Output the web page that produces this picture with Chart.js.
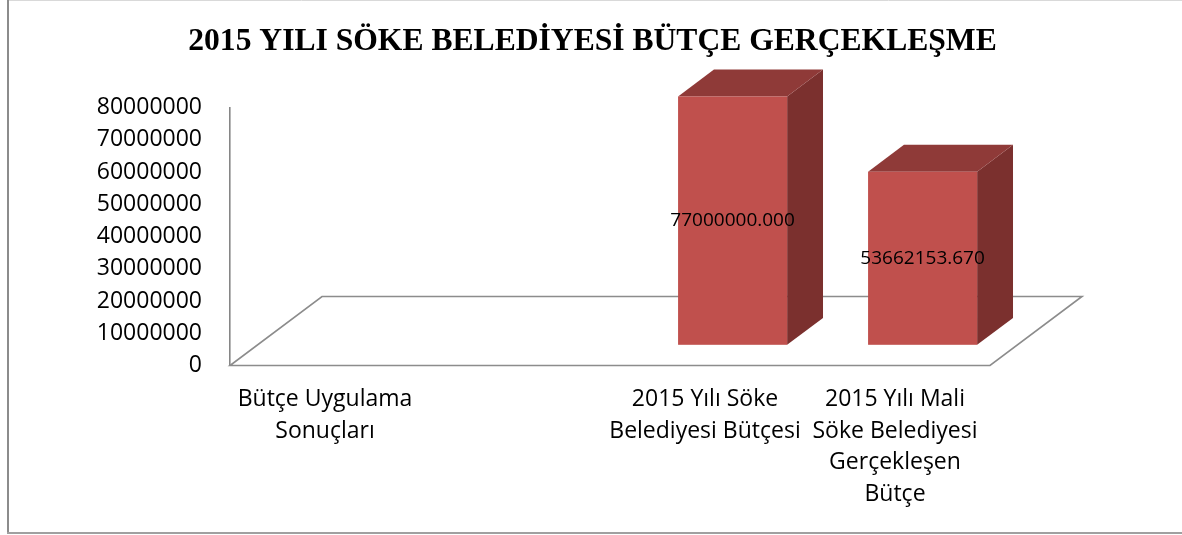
<!DOCTYPE html>
<html>
<head>
<meta charset="utf-8">
<script src="https://cdn.jsdelivr.net/npm/chart.js@4"></script>
<style>
html,body{margin:0;padding:0;background:#fff;}
#wrap{width:1182px;height:535px;position:relative;}
</style>
</head>
<body>
<div id="wrap"><canvas id="c"></canvas></div>
<script>
// ---- data ----
const titleText = '2015 YILI SÖKE BELEDİYESİ BÜTÇE GERÇEKLEŞME';
const categories = [
  ['Bütçe Uygulama', 'Sonuçları'],
  '',
  ['2015 Yılı Söke', 'Belediyesi Bütçesi'],
  ['2015 Yılı Mali', 'Söke Belediyesi', 'Gerçekleşen', 'Bütçe']
];
const values = [null, null, 77000000, 53662153.67];
const yTickLabels = ['0', '10000000', '20000000', '30000000', '40000000', '50000000', '60000000', '70000000', '80000000'];
const yMin = 0;
const yMax = 80000000;
const yStep = 10000000;

// ---- 3D styling ----
const FLOOR_DX = 92, FLOOR_DY = -69;      // floor depth
const BAR_START = 0.3, BAR_DEPTH = 0.39;   // fractions of floor depth
const FRONT = '#C0504D', TOP = '#8F3A38', SIDE = '#7B302E';

const threeD = {
  id: 'threeD',
  beforeDatasetsDraw(chart) {
    const ctx = chart.ctx;
    const {left, right, bottom} = chart.chartArea;
    ctx.save();
    ctx.strokeStyle = '#8c8c8c';
    ctx.lineWidth = 1.6;
    ctx.beginPath();
    ctx.moveTo(left, bottom);
    ctx.lineTo(right, bottom);
    ctx.lineTo(right + FLOOR_DX, bottom + FLOOR_DY);
    ctx.lineTo(left + FLOOR_DX, bottom + FLOOR_DY);
    ctx.closePath();
    ctx.stroke();
    ctx.restore();
  },
  afterDatasetsDraw(chart) {
    const ctx = chart.ctx;
    const meta = chart.getDatasetMeta(0);
    const ox = FLOOR_DX * BAR_START, oy = FLOOR_DY * BAR_START;
    const dx = FLOOR_DX * BAR_DEPTH, dy = FLOOR_DY * BAR_DEPTH;
    ctx.save();
    meta.data.forEach((el, i) => {
      if (values[i] == null) return;
      const p = el.getProps(['x', 'y', 'base', 'width'], true);
      const x1 = p.x - p.width / 2 + ox, x2 = p.x + p.width / 2 + ox;
      const yt = p.y + oy, yb = p.base + oy;
      ctx.fillStyle = SIDE;
      ctx.beginPath();
      ctx.moveTo(x2, yt); ctx.lineTo(x2 + dx, yt + dy); ctx.lineTo(x2 + dx, yb + dy); ctx.lineTo(x2, yb);
      ctx.closePath(); ctx.fill();
      ctx.fillStyle = TOP;
      ctx.beginPath();
      ctx.moveTo(x1, yt); ctx.lineTo(x2, yt); ctx.lineTo(x2 + dx, yt + dy); ctx.lineTo(x1 + dx, yt + dy);
      ctx.closePath(); ctx.fill();
      ctx.fillStyle = FRONT;
      ctx.fillRect(x1, yt, x2 - x1, yb - yt);
      ctx.fillStyle = '#000';
      ctx.font = '19px "Open Sans"';
      ctx.textAlign = 'center';
      ctx.textBaseline = 'middle';
      ctx.fillText(values[i].toFixed(3), (x1 + x2) / 2, (yt + yb) / 2);
    });
    ctx.restore();
  },
  afterDraw(chart) {
    const ctx = chart.ctx;
    const W = chart.width;
    ctx.save();
    // title, centred on the whole chart
    ctx.fillStyle = '#000';
    ctx.font = 'bold 31.6px "Liberation Serif", "Times New Roman", serif';
    ctx.textAlign = 'center';
    ctx.textBaseline = 'middle';
    ctx.fillText(titleText, 592.5, 41.5);
    // outer frame
    ctx.strokeStyle = '#d9d9d9';
    ctx.lineWidth = 1;
    ctx.beginPath(); ctx.moveTo(8, 0.5); ctx.lineTo(W, 0.5); ctx.stroke();
    ctx.strokeStyle = '#8c8c8c';
    ctx.lineWidth = 2;
    ctx.beginPath(); ctx.moveTo(8, 0); ctx.lineTo(8, 533); ctx.stroke();
    ctx.strokeStyle = '#a0a0a0';
    ctx.beginPath(); ctx.moveTo(7, 533); ctx.lineTo(W, 533); ctx.stroke();
    ctx.restore();
  }
};

new Chart(document.getElementById('c'), {
  type: 'bar',
  data: {
    labels: categories,
    datasets: [{
      data: values,
      backgroundColor: 'rgba(0,0,0,0)',
      borderWidth: 0,
      barPercentage: 1,
      categoryPercentage: 0.574
    }]
  },
  options: {
    responsive: true,
    maintainAspectRatio: false,
    animation: false,
    layout: {padding: {left: 0, right: 192, top: 107.5, bottom: 0}},
    plugins: {
      legend: {display: false},
      tooltip: {enabled: false},
      title: {display: false}
    },
    scales: {
      x: {
        grid: {display: false, drawTicks: false},
        border: {display: false},
        ticks: {
          color: '#000',
          font: {family: '"Open Sans"', size: 23, lineHeight: 1.38},
          padding: 18,
          maxRotation: 0,
          autoSkip: false
        },
        afterFit(s) { s.height = 169.5; }
      },
      y: {
        min: yMin,
        max: yMax,
        grid: {display: false, drawTicks: false},
        border: {display: true, color: '#868686', width: 1.6},
        ticks: {
          stepSize: yStep,
          color: '#000',
          font: {family: '"Open Sans"', size: 23},
          padding: 28,
          callback: (v, i) => yTickLabels[i]
        },
        afterFit(s) { s.width = 230; }
      }
    }
  },
  plugins: [threeD]
});
</script>
</body>
</html>
